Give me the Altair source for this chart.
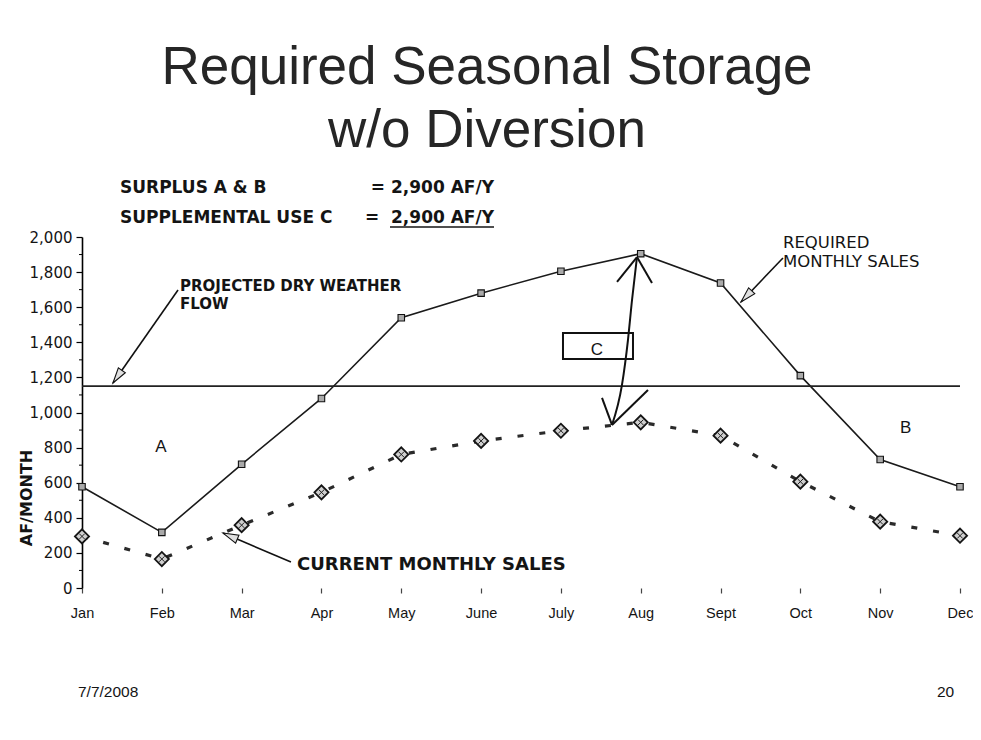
import json
import math
import altair as alt
import pandas as pd

# ---------------- data ----------------
months = ["Jan", "Feb", "Mar", "Apr", "May", "June", "July", "Aug", "Sept", "Oct", "Nov", "Dec"]
required_sales = [577, 317, 705, 1080, 1540, 1680, 1805, 1905, 1738, 1210, 732, 577]
current_sales = [294, 165, 358, 545, 761, 838, 896, 944, 868, 606, 378, 298]
dry_weather_flow = 1150
y_ticks = list(range(0, 2001, 200))
y_minor_ticks = list(range(100, 2000, 200))

title_lines = ["Required Seasonal Storage", "w/o Diversion"]
summary_left = ["SURPLUS A & B", "SUPPLEMENTAL USE C"]
summary_right = ["2,900 AF/Y", "2,900 AF/Y"]

# ---------------- layout ----------------
W, H = 878, 351
XMAX, YMAX = 11, 2000
PX_X = W / XMAX
PX_Y = H / YMAX

df = pd.DataFrame({"m": list(range(len(months))), "month": months,
                   "required": required_sales, "current": current_sales})

xs = alt.Scale(domain=[0, XMAX], nice=False, zero=False)
ys = alt.Scale(domain=[0, YMAX], nice=False, zero=False)
INK = "#141414"
label_expr = json.dumps(months) + "[datum.value]"

x_axis = alt.Axis(values=list(range(len(months))), labelExpr=label_expr, title=None,
                  domain=False, grid=False, tickSize=5, tickColor="#444", tickWidth=1.2,
                  labelFont="Liberation Sans", labelFontSize=14.5, labelColor=INK,
                  labelPadding=13, labelAngle=0, labelFlush=False, labelBaseline="top")
y_axis = alt.Axis(values=y_ticks, format=",.0f", title=None, grid=False,
                  domainColor="#000", domainWidth=1.6, tickColor="#000", tickSize=6,
                  tickWidth=1.2, labelFont="DejaVu Sans", labelFontSize=15, labelColor=INK,
                  labelPadding=4)


def X(field):
    return alt.X(field, scale=xs, axis=x_axis, title=None)


def Y(field):
    return alt.Y(field, scale=ys, axis=y_axis, title=None)


base = alt.Chart(df)

required_line = base.mark_line(color="#1a1a1a", strokeWidth=1.6).encode(
    x=X("m:Q"), y=Y("required:Q"))
required_pts = base.mark_point(shape="square", size=42, filled=True, fill="#aaa",
                               stroke="#111", strokeWidth=1.1, opacity=1).encode(
    x=X("m:Q"), y=Y("required:Q"))

current_line = base.mark_line(color="#2a2a2a", strokeWidth=3.2, strokeDash=[6, 16],
                              strokeCap="butt").encode(x=X("m:Q"), y=Y("current:Q"))
current_pts = base.mark_point(shape="diamond", size=200, filled=True, fill="#cfcfcf",
                              stroke="#151515", strokeWidth=1.8, opacity=1).encode(
    x=X("m:Q"), y=Y("current:Q"))
current_x = base.mark_point(shape="M-1,-1L1,1M1,-1L-1,1", size=30, filled=False,
                            stroke="#222", strokeWidth=1, opacity=1).encode(
    x=X("m:Q"), y=Y("current:Q"))

flow_rule = alt.Chart(pd.DataFrame({"v": [dry_weather_flow]})).mark_rule(
    color="#222", strokeWidth=1.6).encode(y=Y("v:Q"))

minor = alt.Chart(pd.DataFrame({"v": y_minor_ticks})).mark_rule(
    color="#000", strokeWidth=1).encode(y=Y("v:Q"), x=alt.value(-3), x2=alt.value(0))

# ---------------- annotations (data coordinates) ----------------
arrows = pd.DataFrame([
    # start (x, y) -> tip (x2, y2)
    {"x": 1.203, "y": 1698, "x2": 0.388, "y2": 1168},   # dry weather flow
    {"x": 8.782, "y": 1880, "x2": 8.256, "y2": 1630},   # required monthly sales
    {"x": 2.618, "y": 148, "x2": 1.767, "y2": 313},     # current monthly sales
])
arrows["ang"] = [
    math.degrees(math.atan2((r.x2 - r.x) * PX_X, (r.y2 - r.y) * PX_Y)) % 360
    for r in arrows.itertuples()
]
arrow_lines = alt.Chart(arrows).mark_rule(color="#111", strokeWidth=1.6).encode(
    x=X("x:Q"), y=Y("y:Q"), x2="x2:Q", y2="y2:Q")
arrow_heads = alt.Chart(arrows).mark_point(
    shape="M0,0L0.55,2L-0.55,2Z", size=240, filled=True, fill="#e0e0e0",
    stroke="#111", strokeWidth=1.1, opacity=1).encode(
    x=X("x2:Q"), y=Y("y2:Q"), angle=alt.Angle("ang:Q", scale=None))

c_curve = alt.Chart(pd.DataFrame({
    "x": [6.953, 6.891, 6.840, 6.765, 6.640],
    "y": [1886, 1641, 1413, 1157, 929]})).mark_line(
    color="#111", strokeWidth=2, interpolate="monotone").encode(
    x=X("x:Q"), y=Y("y:Q"), order="y:Q")
c_barbs = alt.Chart(pd.DataFrame([
    {"x": 6.953, "y": 1886, "x2": 6.703, "y2": 1744},
    {"x": 6.953, "y": 1886, "x2": 7.141, "y2": 1738},
    {"x": 6.640, "y": 929, "x2": 6.515, "y2": 1083},
    {"x": 6.640, "y": 929, "x2": 7.091, "y2": 1128},
])).mark_rule(color="#111", strokeWidth=2).encode(
    x=X("x:Q"), y=Y("y:Q"), x2="x2:Q", y2="y2:Q")
c_box = alt.Chart(pd.DataFrame([{"x": 6.026, "x2": 6.903, "y": 1305, "y2": 1453}])).mark_rect(
    fillOpacity=0, stroke="#111", strokeWidth=2).encode(
    x=X("x:Q"), y=Y("y:Q"), x2="x2:Q", y2="y2:Q")


def text_data(rows, **kw):
    return alt.Chart(pd.DataFrame(rows)).mark_text(color=INK, lineBreak="\n", **kw).encode(
        x=X("x:Q"), y=Y("y:Q"), text="t:N")


proj_text = text_data([{"x": 1.228, "y": 1690, "t": "PROJECTED DRY WEATHER\nFLOW"}],
                      font="DejaVu Sans", fontWeight="bold", fontSize=15, lineHeight=17.5,
                      align="left", baseline="alphabetic")
req_text = text_data([{"x": 8.782, "y": 1935, "t": "REQUIRED\nMONTHLY SALES"}],
                     font="DejaVu Sans", fontSize=16.5, lineHeight=19,
                     align="left", baseline="alphabetic")
cur_text = text_data([{"x": 2.694, "y": 103, "t": "CURRENT MONTHLY SALES"}],
                     font="DejaVu Sans", fontWeight="bold", fontSize=18,
                     align="left", baseline="alphabetic")
region_text = text_data([
    {"x": 0.99, "y": 775, "t": "A"},
    {"x": 10.32, "y": 883, "t": "B"},
    {"x": 6.452, "y": 1328, "t": "C"}],
    font="Liberation Sans", fontSize=17, align="center", baseline="alphabetic")

# ---------------- page texts (pixel offsets from the plot's corner) ----------------
def page_text(txt, x, y, **kw):
    return alt.Chart(pd.DataFrame({"t": [txt]})).mark_text(**kw).encode(
        x=alt.value(x), y=alt.value(y), text="t:N")


title1 = page_text(title_lines[0], 405, -153, font="Liberation Sans", fontSize=53,
                   color="#262626", align="center", baseline="alphabetic")
title2 = page_text(title_lines[1], 405, -90, font="Liberation Sans", fontSize=53,
                   color="#262626", align="center", baseline="alphabetic")
sub_kw = dict(font="DejaVu Sans", fontWeight="bold", fontSize=17, color=INK,
              baseline="alphabetic")
sub1a = page_text(summary_left[0], 38, -44, align="left", **sub_kw)
sub1b = page_text("= " + summary_right[0], 412, -44, align="right", **sub_kw)
sub2a = page_text(summary_left[1], 38, -14, align="left", **sub_kw)
sub2eq = page_text("=", 290, -14, align="center", **sub_kw)
sub2b = page_text(summary_right[1], 412, -14, align="right", **sub_kw)
underline = alt.Chart(pd.DataFrame({"t": [0]})).mark_rule(color=INK, strokeWidth=1.5).encode(
    x=alt.value(308), x2=alt.value(412), y=alt.value(-10))
ytitle = page_text("AF/MONTH", -55, 261, font="DejaVu Sans", fontWeight="bold",
                   fontSize=16, color=INK, align="center", baseline="middle", angle=270)
date_txt = page_text("7/7/2008", -4, 460, font="Liberation Sans", fontSize=15.5,
                     color=INK, align="left", baseline="alphabetic")
page_no = page_text("20", 855, 460, font="Liberation Sans", fontSize=15.5,
                    color=INK, align="left", baseline="alphabetic")

chart = alt.layer(
    required_line, flow_rule, minor, current_line, current_pts, current_x, required_pts,
    arrow_lines, arrow_heads, c_curve, c_barbs, c_box,
    proj_text, req_text, cur_text, region_text,
    title1, title2, sub1a, sub1b, sub2a, sub2eq, sub2b, underline, ytitle, date_txt, page_no,
).properties(
    width=W, height=H, autosize="none",
    padding={"left": 74, "top": 229, "right": 13, "bottom": 135},
    background="white",
).configure_view(stroke=None)

chart.save("out.html", embed_options={"renderer": "svg", "actions": False})
